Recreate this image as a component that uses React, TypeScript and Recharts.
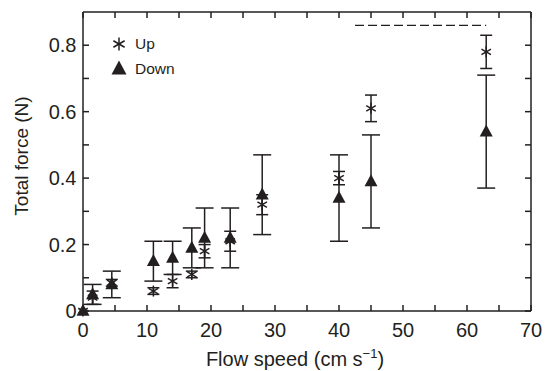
import React from 'react';
import { ScatterChart, Scatter, XAxis, YAxis, ErrorBar, ReferenceLine, Legend } from 'recharts';

// values
const flowSpeed = [0, 1.5, 4.5, 11, 14, 17, 19, 23, 28, 40, 45, 63];
const upForce = [0, 0.04, 0.085, 0.06, 0.09, 0.11, 0.18, 0.21, 0.32, 0.4, 0.61, 0.78];
const upError = [0, 0.02, 0.01, 0.01, 0.02, 0.01, 0.02, 0.03, 0.03, 0.02, 0.04, 0.05];
const downForce = [0, 0.05, 0.08, 0.15, 0.16, 0.19, 0.22, 0.22, 0.35, 0.34, 0.39, 0.54];
const downError = [0, 0.03, 0.04, 0.06, 0.05, 0.06, 0.09, 0.09, 0.12, 0.13, 0.14, 0.17];

const dashX = [42.5, 63];
const dashY = 0.86;

const xTicks = [0, 5, 10, 15, 20, 25, 30, 35, 40, 45, 50, 55, 60, 65, 70];
const xLabels = [0, 10, 20, 30, 40, 50, 60, 70];
const yTicks = [0, 0.1, 0.2, 0.3, 0.4, 0.5, 0.6, 0.7, 0.8];
const yLabels = [0, 0.2, 0.4, 0.6, 0.8];

const upData = flowSpeed.map((x, i) => ({ x, y: upForce[i], err: upError[i] }));
const downData = flowSpeed.map((x, i) => ({ x, y: downForce[i], err: downError[i] }));

const INK = '#231f20';
const FONT = '"Liberation Sans", Arial, Helvetica, sans-serif';

const Asterisk = ({ cx, cy, r = 5.5 }: { cx: number; cy: number; r?: number }) => {
  const arms = [90, 30, 150].map((deg) => {
    const a = (deg * Math.PI) / 180;
    return { dx: Math.cos(a) * r, dy: Math.sin(a) * r };
  });
  return (
    <g stroke={INK} strokeWidth={1.5}>
      {arms.map((d, i) => (
        <line key={i} x1={cx - d.dx} y1={cy - d.dy} x2={cx + d.dx} y2={cy + d.dy} />
      ))}
    </g>
  );
};

const Triangle = ({ cx, cy, w = 13, h = 12 }: { cx: number; cy: number; w?: number; h?: number }) => (
  <path d={`M${cx},${cy - h * 0.6} L${cx + w / 2},${cy + h * 0.4} L${cx - w / 2},${cy + h * 0.4} Z`} fill={INK} />
);

const legendContent = () => (
  <div style={{ fontFamily: FONT, fontSize: 15.5, color: INK }}>
    <div style={{ display: 'flex', alignItems: 'center', height: 25 }}>
      <svg width={20} height={20}>
        <Asterisk cx={10} cy={10} r={6.5} />
      </svg>
      <span style={{ marginLeft: 6 }}>Up</span>
    </div>
    <div style={{ display: 'flex', alignItems: 'center', height: 25 }}>
      <svg width={20} height={20}>
        <Triangle cx={10} cy={10} w={15} h={14} />
      </svg>
      <span style={{ marginLeft: 6 }}>Down</span>
    </div>
  </div>
);

const fmtX = (v: number) => (xLabels.includes(v) ? String(v) : '');
const fmtY = (v: number) => (yLabels.some((m) => Math.abs(m - v) < 1e-6) ? String(v) : '');
const blank = () => '';
const noShape = () => <g />;

const line = { stroke: INK, strokeWidth: 1.5 };
const tickStyle = { fill: INK, fontSize: 20, fontFamily: FONT };

export default function App() {
  return (
    <div style={{ position: 'absolute', left: 0, top: 0, background: '#fff' }}>
      <ScatterChart width={545} height={371} margin={{ top: 12, right: 14, bottom: 0, left: 0 }}>
        {/* labelled axes */}
        <XAxis
          xAxisId="b"
          type="number"
          dataKey="x"
          domain={[0, 70]}
          ticks={xTicks}
          interval={0}
          tickFormatter={fmtX}
          tickLine={false}
          tickMargin={6}
          height={60}
          axisLine={line}
          tick={tickStyle}
          label={{
            content: () => (
              <text x={295} y={366} textAnchor="middle" fill={INK} fontSize={20} fontFamily={FONT}>
                Flow speed (cm s
                <tspan dy={-8} fontSize={13}>−1</tspan>
                <tspan dy={8}>)</tspan>
              </text>
            ),
          }}
        />
        <YAxis
          yAxisId="l"
          type="number"
          dataKey="y"
          domain={[0, 0.9]}
          ticks={yTicks}
          interval={0}
          tickFormatter={fmtY}
          tickLine={false}
          tickMargin={0.5}
          width={83}
          axisLine={line}
          tick={tickStyle}
          label={{
            content: () => (
              <text
                x={0}
                y={0}
                transform="translate(21,156) rotate(-90)"
                textAnchor="middle"
                dominantBaseline="central"
                fill={INK}
                fontSize={19}
                fontFamily={FONT}
              >
                Total force (N)
              </text>
            ),
          }}
        />
        {/* inward tick marks on all four sides */}
        <XAxis xAxisId="bm" mirror type="number" dataKey="x" domain={[0, 70]} ticks={xTicks} interval={0} tickFormatter={blank} tickSize={6} tickLine={line} axisLine={false} height={20} />
        <XAxis xAxisId="tm" mirror orientation="top" type="number" dataKey="x" domain={[0, 70]} ticks={xTicks} interval={0} tickFormatter={blank} tickSize={6} tickLine={line} axisLine={line} height={20} />
        <YAxis yAxisId="lm" mirror type="number" dataKey="y" domain={[0, 0.9]} ticks={yTicks} interval={0} tickFormatter={blank} tickSize={6} tickLine={line} axisLine={false} width={20} />
        <YAxis yAxisId="rm" mirror orientation="right" type="number" dataKey="y" domain={[0, 0.9]} ticks={yTicks} interval={0} tickFormatter={blank} tickSize={6} tickLine={line} axisLine={line} width={20} />
        {/* invisible series so the frame axes get drawn */}
        <Scatter data={upData} xAxisId="bm" yAxisId="lm" isAnimationActive={false} shape={noShape} legendType="none" />
        <Scatter data={upData} xAxisId="tm" yAxisId="rm" isAnimationActive={false} shape={noShape} legendType="none" />
        <ReferenceLine
          xAxisId="b"
          yAxisId="l"
          segment={[
            { x: dashX[0], y: dashY },
            { x: dashX[1], y: dashY },
          ]}
          stroke={INK}
          strokeWidth={1.3}
          strokeDasharray="9 4"
        />
        <Scatter
          name="Up"
          data={upData}
          xAxisId="b"
          yAxisId="l"
          isAnimationActive={false}
          shape={(p: any) => <Asterisk cx={p.cx} cy={p.cy} />}
        >
          <ErrorBar dataKey="err" direction="y" width={6} stroke={INK} strokeWidth={1.5} />
        </Scatter>
        <Scatter
          name="Down"
          data={downData}
          xAxisId="b"
          yAxisId="l"
          isAnimationActive={false}
          shape={(p: any) => <Triangle cx={p.cx} cy={p.cy} />}
        >
          <ErrorBar dataKey="err" direction="y" width={9} stroke={INK} strokeWidth={1.5} />
        </Scatter>
        <Legend
          layout="horizontal"
          verticalAlign="middle"
          align="center"
          content={legendContent}
          wrapperStyle={{ left: 109, top: 31, width: 'auto' }}
        />
      </ScatterChart>
    </div>
  );
}
